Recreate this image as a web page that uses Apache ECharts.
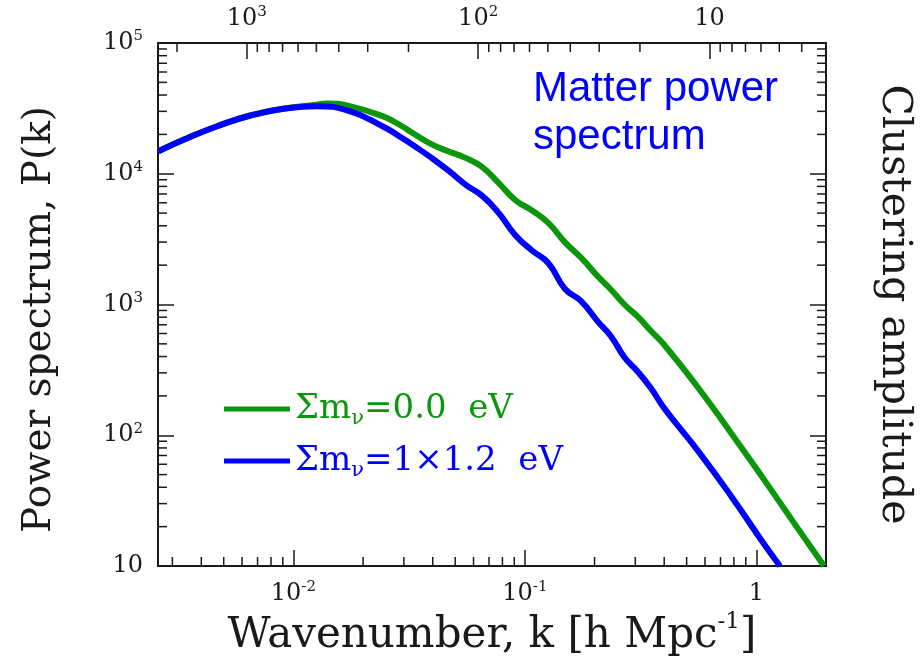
<!DOCTYPE html>
<html>
<head>
<meta charset="utf-8">
<script src="https://cdn.jsdelivr.net/npm/echarts@6/dist/echarts.min.js"></script>
<style>
html,body{margin:0;padding:0;background:#ffffff;}
#chart{width:922px;height:668px;}
</style>
</head>
<body>
<div id="chart"></div>
<script>
// ---------- data ----------
const seriesNames = ['Σmν=0.0 eV', 'Σmν=1×1.2 eV'];
const legendParts = [['Σm', 'ν', '=0.0  eV'], ['Σm', 'ν', '=1×1.2  eV']];

// massless neutrinos (green)
const kMassless = [0.00261,0.00337,0.00468,0.00651,0.00904,0.01258,0.01388,0.01748,0.02428,0.02864,0.0338,0.03981,0.04696,0.05537,0.06526,0.077,0.0908,0.107,0.1262,0.1488,0.1753,0.2067,0.2358,0.2692,0.3069,0.35,0.3997,0.5554,0.772,1.074,1.492,1.962];
const pMassless = [14870,18280,23100,27900,31400,33700,34470,32870,27560,23800,19800,16700,14800,13230,11300,8517,6300,5250,4207,3000,2270,1640,1298,1000,810.6,630,492.3,236.0,106.0,46.4,20.0,10.0];

// massive neutrinos (blue)
const kMassive = [0.00261,0.00337,0.00468,0.00651,0.00904,0.01258,0.01748,0.02428,0.02864,0.0338,0.03981,0.04696,0.05537,0.06526,0.077,0.0908,0.107,0.1262,0.1488,0.1753,0.2067,0.2358,0.2692,0.3069,0.35,0.3997,0.5554,0.772,1.074,1.265];
const pMassive = [14870,18280,23100,27900,31400,32870,30100,23100,19370,16020,13100,10500,8265,6800,5019,3400,2600,2079,1320,1056,740,570,395,307.4,229.4,161.3,77.3,34.98,14.92,10.0];

// axes
const kRange = [0.0026, 2];
const pRange = [10, 100000];
const lambdaFactor = 2 * Math.PI;           // top axis: scale = 2π / k
const kTickValues = [0.01, 0.1, 1];
const kTickLabels = [['10', '-2'], ['10', '-1'], ['1', '']];
const pTickValues = [10, 100, 1000, 10000, 100000];
const pTickLabels = [['10', ''], ['10', '2'], ['10', '3'], ['10', '4'], ['10', '5']];
const lambdaTickValues = [10, 100, 1000];
const lambdaTickLabels = [['10', ''], ['10', '2'], ['10', '3']];
const minorMultipliers = [2, 3, 4, 5, 6, 7, 8, 9];
const kDecades = [0.001, 0.01, 0.1, 1];
const pDecades = [10, 100, 1000, 10000];
const lambdaDecades = [1, 10, 100, 1000];

// ---------- helpers ----------
const GREEN = '#0b960b';
const BLUE = '#0000ff';
const INK = '#1a1a1a';
const SERIF = "'DejaVu Serif', 'Liberation Serif', serif";

function minorTicks(decades, lo, hi) {
  const out = [];
  decades.forEach(d => minorMultipliers.forEach(m => {
    const v = d * m;
    if (v > lo * 1.0001 && v < hi * 0.9999) out.push(v);
  }));
  return out;
}
function tickFormatter(values, labels) {
  return function (v) {
    const i = values.findIndex(t => Math.abs(Math.log10(v) - Math.log10(t)) < 1e-6);
    if (i < 0) return '';
    const [b, s] = labels[i];
    return s ? '{b|' + b + '}{s|' + s + '}' : '{b|' + b + '}';
  };
}
const tickRich = {
  b: { fontFamily: SERIF, fontSize: 24, lineHeight: 28, color: INK },
  s: { fontFamily: SERIF, fontSize: 15, lineHeight: 15, color: INK, verticalAlign: 'top' }
};
const lambdaRange = [lambdaFactor / kRange[1], lambdaFactor / kRange[0]];

function tickRenderer(side, len) {
  return function (params, api) {
    const p = api.coord([api.value(0), api.value(1)]);
    let x2 = p[0], y2 = p[1];
    if (side === 'left') x2 += len;
    else if (side === 'right') x2 -= len;
    else if (side === 'bottom') y2 -= len;
    else y2 += len;
    return { type: 'line', shape: { x1: p[0], y1: p[1], x2: x2, y2: y2 },
             style: { stroke: INK, lineWidth: 1.5 } };
  };
}
function minorSeries(side, data, xAxisIndex) {
  return { type: 'custom', silent: true, xAxisIndex: xAxisIndex, yAxisIndex: 0, z: 4,
           renderItem: tickRenderer(side, 9), data: data, animation: false };
}

const axisLine = { show: true, onZero: false, lineStyle: { color: INK, width: 2 } };
const majorTick = { show: true, inside: true, length: 16, lineStyle: { color: INK, width: 1.5 } };

const option = {
  animation: false,
  backgroundColor: '#ffffff',
  title: {
    text: 'Matter power\nspectrum',
    left: 528, top: 60,
    textStyle: { color: BLUE, fontSize: 42, fontWeight: 'normal', lineHeight: 48,
                 fontFamily: "'Liberation Sans Narrow', 'Liberation Sans', Arial, sans-serif" }
  },
  legend: {
    left: 224, top: 392, orient: 'vertical', padding: 0,
    itemWidth: 66, itemHeight: 5, itemGap: 15, icon: 'rect',
    data: seriesNames,
    formatter: function (name) {
      const i = seriesNames.indexOf(name);
      const tag = i === 0 ? 'g' : 'u';
      const [a, sub, c] = legendParts[i];
      return '{' + tag + '|' + a + '}{' + tag + 's|' + sub + '}{' + tag + '|' + c + '}';
    },
    textStyle: {
      rich: {
        g: { fontFamily: SERIF, fontSize: 34, lineHeight: 40, color: GREEN },
        gs: { fontFamily: SERIF, fontSize: 21, lineHeight: 34, color: GREEN, verticalAlign: 'bottom' },
        u: { fontFamily: SERIF, fontSize: 34, lineHeight: 40, color: BLUE },
        us: { fontFamily: SERIF, fontSize: 21, lineHeight: 34, color: BLUE, verticalAlign: 'bottom' }
      }
    }
  },
  grid: { left: 158, right: 94, top: 43, bottom: 102 },
  xAxis: [
    {
      type: 'log', min: kRange[0], max: kRange[1], position: 'bottom',
      axisLine: axisLine, axisTick: majorTick, splitLine: { show: false },
      axisLabel: { margin: 14, formatter: tickFormatter(kTickValues, kTickLabels), rich: tickRich,
                   showMinLabel: true, showMaxLabel: true },
      name: '{a|Wavenumber, k [h Mpc}{s|-1}{a|]}', nameLocation: 'middle', nameGap: 27,
      nameTextStyle: { rich: {
        a: { fontFamily: SERIF, fontSize: 42, lineHeight: 50, color: INK },
        s: { fontFamily: SERIF, fontSize: 23, lineHeight: 38, color: INK, verticalAlign: 'top' }
      } }
    },
    {
      type: 'log', min: lambdaRange[0], max: lambdaRange[1], inverse: true, position: 'top',
      axisLine: axisLine, axisTick: majorTick, splitLine: { show: false },
      axisLabel: { margin: 10, formatter: tickFormatter(lambdaTickValues, lambdaTickLabels), rich: tickRich }
    }
  ],
  yAxis: [
    {
      type: 'log', min: pRange[0], max: pRange[1], position: 'left',
      axisLine: axisLine, axisTick: majorTick, splitLine: { show: false },
      axisLabel: { margin: 15, formatter: tickFormatter(pTickValues, pTickLabels), rich: tickRich },
      name: 'Power spectrum, P(k)', nameLocation: 'middle', nameGap: 99, nameRotate: 90,
      nameTextStyle: { fontFamily: SERIF, fontSize: 39, color: INK, padding: [0, 30, 0, 0] }
    },
    {
      type: 'log', min: pRange[0], max: pRange[1], position: 'right',
      axisLine: axisLine, axisTick: majorTick, splitLine: { show: false },
      axisLabel: { show: false },
      name: 'Clustering amplitude', nameLocation: 'middle', nameGap: 47, nameRotate: -90,
      nameTextStyle: { fontFamily: SERIF, fontSize: 41, color: INK }
    }
  ],
  series: [
    {
      name: seriesNames[0], type: 'line', xAxisIndex: 0, yAxisIndex: 0,
      data: kMassless.map((k, i) => [k, pMassless[i]]),
      showSymbol: false, smooth: 0.5, clip: true, z: 2,
      lineStyle: { color: GREEN, width: 6 }, itemStyle: { color: GREEN }
    },
    {
      name: seriesNames[1], type: 'line', xAxisIndex: 0, yAxisIndex: 0,
      data: kMassive.map((k, i) => [k, pMassive[i]]),
      showSymbol: false, smooth: 0.5, clip: true, z: 3,
      lineStyle: { color: BLUE, width: 6 }, itemStyle: { color: BLUE }
    },
    minorSeries('left', minorTicks(pDecades, pRange[0], pRange[1]).map(v => [kRange[0], v]), 0),
    minorSeries('right', minorTicks(pDecades, pRange[0], pRange[1]).map(v => [kRange[1], v]), 0),
    minorSeries('bottom', minorTicks(kDecades, kRange[0], kRange[1]).map(v => [v, pRange[0]]), 0),
    minorSeries('top', minorTicks(lambdaDecades, lambdaRange[0], lambdaRange[1]).map(v => [v, pRange[1]]), 1)
  ]
};

const chart = echarts.init(document.getElementById('chart'), null, { renderer: 'canvas' });
chart.setOption(option);
</script>
</body>
</html>
